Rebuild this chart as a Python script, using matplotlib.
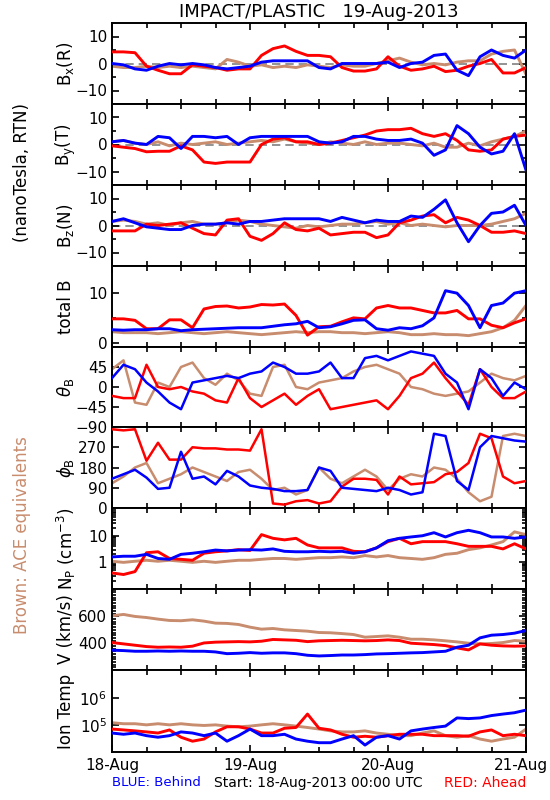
import numpy as np
import matplotlib
matplotlib.use('Agg')
import matplotlib.pyplot as plt
import matplotlib.transforms as mtransforms
from matplotlib.ticker import FixedLocator, NullFormatter, LogLocator

plt.rcParams.update({
    'font.family': 'DejaVu Sans',
    'font.size': 11,
    'axes.linewidth': 1.4,
})

BLUE = '#0000ff'
RED = '#ff0000'
BROWN = '#c88c6e'

# hours since 18-Aug-2013 00:00 UTC, every 2 h
HOURS = np.arange(0, 73, 2)

# ---- B_R ----
bx_red = [4.3, 4.3, 4.0, -1.0, -2.5, -3.8, -3.8, -0.5, -1.0, -1.5, -2.5, -2.0, -2.0,
          3.0, 5.5, 6.5, 4.5, 3.0, 3.0, 2.5, -1.5, -2.8, -2.8, -2.0, 2.5, -1.0,
          -2.5, -2.0, -1.0, -3.0, -2.5, -1.0, 0.0, 1.5, -3.5, -3.5, -1.5]
bx_blue = [0.0, -0.5, -2.0, -2.5, -1.0, 0.0, -0.5, 0.0, -0.5, -1.5, -2.0, -1.5, -1.0,
           0.5, 1.0, 1.0, 1.0, 1.0, -1.5, -2.0, 0.0, 0.0, 0.0, 0.0, 0.5, -1.5,
           0.0, 0.5, 3.0, 3.5, -2.5, -4.5, 2.5, 5.0, 3.0, 2.0, 5.0]
bx_ace = [-1.0, -1.5, -1.5, -1.0, -1.5, -1.0, -1.5, -1.0, -1.5, -2.0, 1.5, 0.5, -1.0,
          -0.5, -1.5, -1.0, -1.5, -0.5, -1.0, -1.5, -0.5, -1.0, -1.0, 0.0, 1.0, 2.0,
          0.5, -0.5, 0.0, -0.5, 0.5, 1.0, 1.0, 3.5, 4.5, 5.0, -4.0]

# ---- B_T ----
by_red = [-0.5, -1.0, -1.5, -2.7, -2.5, -2.5, -0.5, -2.0, -6.5, -7.0, -6.5, -6.5, -6.5,
          0.0, 2.0, 2.5, 1.0, 1.0, 0.0, 0.5, 1.5, 2.5, 3.5, 5.0, 5.5, 5.5,
          6.0, 4.0, 3.0, 4.0, 1.5, -2.0, -2.5, -2.0, 2.0, 3.0, 3.5]
by_blue = [1.0, 1.5, 0.5, 0.0, 3.0, 2.5, -1.5, 3.0, 3.0, 2.5, 3.0, 0.0, 2.5,
           3.0, 3.0, 3.0, 3.0, 3.0, 1.0, 0.5, 1.0, 3.0, 3.0, 2.0, 1.5, 1.5,
           2.0, 0.5, -4.0, -2.0, 7.0, 4.0, -1.0, -3.5, -2.5, 4.0, -9.5]
by_ace = [1.0, 1.5, 0.5, 0.0, 1.0, -0.5, 0.5, 0.0, 0.5, 1.0, 0.0, 0.5, 1.0,
          1.5, 1.0, 2.0, 1.0, 0.5, 0.0, 1.0, 0.5, 0.0, 1.0, 0.0, 0.5, 0.5,
          0.0, -0.5, 0.5, -1.0, -1.0, 0.5, -0.5, 1.0, 2.0, 3.0, 5.0]

# ---- B_N ----
bz_red = [-2.0, -2.0, -2.0, 0.5, 0.0, 0.5, 1.0, -1.0, -3.0, -3.5, 2.0, 2.5, -4.0,
          -5.5, -3.0, 1.0, -1.5, -2.0, -1.0, -3.5, -3.0, -2.5, -2.5, -4.5, -3.5, 1.0,
          2.0, 3.5, 4.0, 1.0, 3.0, 2.0, 0.0, -2.5, -2.5, -2.0, -3.0]
bz_blue = [1.5, 2.5, 1.0, -0.5, -1.0, -1.5, -1.5, 0.0, 0.5, 0.5, 1.0, 0.5, 1.5,
           1.5, 2.0, 2.5, 2.5, 2.5, 2.5, 1.5, 3.0, 2.0, 1.0, 2.0, 1.5, 1.5,
           3.5, 3.0, 6.0, 9.5, 1.0, -6.0, 0.0, 4.5, 5.0, 7.5, 0.0]
bz_ace = [1.5, 2.0, 1.5, 0.5, 1.0, 0.0, 1.0, 1.5, 0.5, 0.5, 1.0, 2.0, 1.5,
          0.5, 0.0, -0.5, -1.0, 0.0, -0.5, 0.0, 0.5, 0.5, 1.0, 1.5, 0.5, 1.0,
          0.0, 0.5, 0.0, -0.5, 0.0, 0.0, 0.0, 0.5, 1.5, 2.5, 4.5]

# ---- |B| ----
bt_red = [4.8, 4.8, 4.5, 2.8, 2.8, 4.6, 4.6, 3.0, 6.8, 7.3, 7.4, 7.0, 7.2,
          7.7, 7.6, 7.8, 5.5, 1.5, 3.2, 3.3, 4.2, 5.0, 4.8, 7.0, 7.5, 7.0,
          7.0, 6.5, 6.0, 6.0, 6.5, 4.8, 4.8, 3.5, 3.0, 4.0, 4.8]
bt_blue = [2.6, 2.5, 2.6, 2.6, 2.8, 2.8, 2.4, 2.6, 2.7, 2.8, 2.9, 3.0, 3.0,
           3.0, 3.3, 3.6, 3.8, 4.3, 3.0, 3.2, 3.8, 4.5, 4.6, 2.8, 2.5, 3.0,
           2.8, 3.4, 5.0, 10.5, 10.0, 7.5, 3.0, 7.5, 8.0, 10.0, 10.5]
bt_ace = [2.2, 2.0, 2.0, 2.0, 1.8, 2.0, 2.2, 2.0, 1.8, 2.0, 2.2, 2.0, 1.8,
          1.6, 1.8, 2.0, 2.2, 2.0, 2.2, 2.2, 2.0, 2.0, 1.8, 2.0, 2.2, 2.0,
          1.6, 1.6, 1.8, 1.6, 1.6, 1.4, 1.8, 2.2, 3.0, 4.5, 7.5]

# ---- theta_B (deg) ----
th_red = [-20, -25, -25, 50, 0, -5, 0, -10, -15, -30, -35, 20, -25,
          -45, -30, -15, -40, -20, -5, -50, -45, -40, -35, -30, -50, -20,
          20, 30, 55, 20, -10, -40, 40, 0, -25, -25, -10]
th_blue = [20, 50, 40, 10, -10, -35, -50, 10, 15, 20, 25, 20, 30,
           35, 55, 45, 30, 30, 35, 55, 20, 20, 65, 70, 60, 70,
           80, 75, 70, 30, 10, -50, 40, 20, -20, 10, -5]
th_ace = [40, 60, -35, -40, 10, 0, 45, 55, 20, 5, 30, 15, -15,
          -20, 45, 50, 0, -5, 10, 15, 20, 35, 45, 50, 40, 30,
          0, -5, -15, -20, -15, -10, 10, 30, 20, 15, 25]

# ---- phi_B (deg) ----
ph_red = [350, 345, 350, 210, 290, 215, 215, 270, 265, 265, 260, 260, 255,
          350, 20, 15, 30, 35, 20, 30, 95, 130, 130, 125, 60, 140,
          105, 110, 115, 150, 160, 200, 330, 310, 140, 110, 120]
ph_blue = [130, 150, 170, 135, 85, 90, 250, 130, 140, 105, 165, 140, 100,
           90, 85, 75, 75, 80, 180, 165, 90, 85, 80, 75, 90, 80,
           60, 70, 330, 320, 120, 80, 270, 320, 310, 300, 295]
ph_ace = [110, 140, 180, 200, 110, 130, 150, 180, 160, 140, 120, 160, 170,
          130, 80, 90, 60, 80, 180, 130, 110, 140, 170, 140, 80, 130,
          150, 140, 180, 170, 130, 70, 30, 50, 320, 330, 320]

# ---- proton density (cm^-3) ----
np_red = [0.4, 0.35, 0.45, 2.3, 2.5, 1.4, 1.3, 1.2, 2.2, 2.5, 2.7, 3.0, 2.8,
          11, 8, 7, 8, 4.5, 3.5, 3.5, 3.5, 2.6, 2.5, 3.5, 6, 8,
          5, 6, 6, 6, 5, 4, 4, 4, 3.2, 5, 3.2]
np_blue = [1.6, 1.7, 1.7, 2.0, 1.4, 1.3, 2.0, 2.2, 2.5, 2.9, 2.7, 2.9, 3.0,
           2.9, 3.2, 2.6, 2.5, 2.5, 2.6, 2.5, 2.6, 2.2, 2.5, 3.5, 6.5, 8,
           9, 10, 13, 9, 13, 16, 13, 9, 9, 8, 9]
np_ace = [1.1, 1.0, 1.1, 1.2, 1.1, 1.2, 1.1, 1.0, 1.1, 1.0, 1.1, 1.2, 1.2,
          1.3, 1.4, 1.4, 1.3, 1.4, 1.5, 1.5, 1.6, 1.5, 1.8, 1.6, 1.8, 1.5,
          1.4, 1.3, 1.5, 2.0, 2.2, 3.0, 3.5, 4.5, 6, 14, 11]

# ---- bulk speed (km/s) ----
v_red = [405, 395, 385, 375, 370, 372, 370, 378, 402, 408, 410, 412, 410,
         415, 428, 425, 422, 412, 418, 420, 422, 420, 418, 420, 425, 420,
         400, 395, 390, 382, 365, 350, 395, 385, 380, 378, 380]
v_blue = [348, 345, 340, 340, 342, 340, 342, 340, 340, 335, 322, 325, 330,
          325, 328, 328, 322, 310, 305, 308, 312, 312, 315, 320, 322, 325,
          328, 330, 335, 340, 370, 385, 440, 460, 465, 475, 495]
v_ace = [605, 615, 600, 592, 580, 570, 568, 575, 565, 550, 548, 540, 520,
         505, 510, 500, 495, 490, 480, 478, 472, 465, 445, 450, 455, 445,
         430, 430, 425, 418, 410, 400, 395, 398, 405, 420, 415]

# ---- ion temperature (K) ----
t_red = [7.0e4, 6.5e4, 6.0e4, 5.5e4, 5.0e4, 6.5e4, 3.5e4, 2.5e4, 3.0e4, 5.5e4, 8.5e4, 8.5e4, 7.0e4,
         5.0e4, 5.0e4, 7.5e4, 8.0e4, 2.5e5, 7.5e4, 6.5e4, 4.5e4, 3.5e4, 3.8e4, 3.5e4, 4.0e4, 4.5e4,
         4.5e4, 4.5e4, 4.0e4, 4.0e4, 4.0e4, 3.8e4, 5.5e4, 6.5e4, 4.0e4, 4.5e4, 4.0e4]
t_blue = [5.0e4, 4.5e4, 5.0e4, 4.0e4, 3.5e4, 4.0e4, 5.5e4, 5.0e4, 4.0e4, 5.0e4, 2.5e4, 4.0e4, 7.0e4,
          4.0e4, 4.0e4, 4.5e4, 3.0e4, 2.5e4, 2.2e4, 2.2e4, 3.0e4, 4.0e4, 1.8e4, 3.5e4, 4.0e4, 3.0e4,
          6.0e4, 7.0e4, 8.0e4, 9.0e4, 1.8e5, 1.7e5, 1.8e5, 2.2e5, 2.5e5, 2.8e5, 3.5e5]
t_ace = [1.2e5, 1.1e5, 1.1e5, 1.0e5, 1.1e5, 1.0e5, 1.1e5, 1.0e5, 9.5e4, 1.0e5, 9.0e4, 8.5e4, 9.0e4,
         1.0e5, 1.1e5, 1.0e5, 9.0e4, 8.0e4, 7.0e4, 6.0e4, 5.5e4, 5.5e4, 6.0e4, 5.0e4, 4.5e4, 4.0e4,
         4.0e4, 5.0e4, 6.0e4, 4.0e4, 3.5e4, 4.0e4, 3.0e4, 2.5e4, 3.0e4, 3.5e4, 7.0e4]

DAY_LABELS = ['18-Aug', '19-Aug', '20-Aug', '21-Aug']

# panel edges in pixels (top of fig = 0)
EDGES = [23, 104, 185, 266, 347, 427, 508, 589, 670, 752]
LEFT, RIGHT = 112, 526
W, H = 550, 800


def make_axes(fig):
    axes = []
    for i in range(9):
        top, bot = EDGES[i], EDGES[i + 1]
        ax = fig.add_axes([LEFT / W, 1 - bot / H, (RIGHT - LEFT) / W, (bot - top) / H])
        axes.append(ax)
    return axes


def style(ax, last=False):
    ax.set_xlim(0, 72)
    ax.xaxis.set_major_locator(FixedLocator([0, 24, 48, 72]))
    ax.xaxis.set_minor_locator(FixedLocator(np.arange(0, 73, 6)))
    ax.tick_params(axis='both', which='both', direction='in', top=True, right=True,
                   width=1.2, colors='black', labelsize=11)
    ax.tick_params(axis='both', which='major', length=5)
    ax.tick_params(axis='both', which='minor', length=3)
    ax.tick_params(axis='x', which='minor', length=3.5)
    if last:
        ax.set_xticklabels(DAY_LABELS, fontsize=11)
        ax.tick_params(axis='x', which='major', pad=4)
        # nudge the last date label so it stays inside the figure
        lab = ax.get_xticklabels()[-1]
        lab.set_transform(lab.get_transform() + mtransforms.ScaledTranslation(
            -4 / 72, 0, ax.figure.dpi_scale_trans))
    else:
        ax.set_xticklabels([])


def draw(ax, ace, red, blue, lw=2.1):
    ax.plot(HOURS, ace, color=BROWN, lw=lw, zorder=2)
    ax.plot(HOURS, red, color=RED, lw=lw, zorder=3)
    ax.plot(HOURS, blue, color=BLUE, lw=lw, zorder=4)


def main():
    fig = plt.figure(figsize=(5.5, 8.0), dpi=100)
    axes = make_axes(fig)

    comps = [(bx_ace, bx_red, bx_blue),
             (by_ace, by_red, by_blue),
             (bz_ace, bz_red, bz_blue)]
    for ax, (ace, red, blue) in zip(axes[:3], comps):
        ax.axhline(0, color='#808080', lw=1.2, ls=(0, (5, 3)), zorder=1)
        draw(ax, ace, red, blue)
        ax.set_ylim(-15, 15)
        ax.yaxis.set_major_locator(FixedLocator([-10, 0, 10]))
        ax.yaxis.set_minor_locator(FixedLocator([-5, 5]))
        ax.set_yticklabels(['\u221210', '0', '10'])

    ax = axes[3]
    draw(ax, bt_ace, bt_red, bt_blue)
    ax.set_ylim(-0.9, 15.5)
    ax.yaxis.set_major_locator(FixedLocator([0, 10]))
    ax.yaxis.set_minor_locator(FixedLocator([5]))

    ax = axes[4]
    draw(ax, th_ace, th_red, th_blue, lw=1.8)
    ax.set_ylim(-90, 90)
    ax.yaxis.set_major_locator(FixedLocator([-90, -45, 0, 45]))
    ax.set_yticklabels(['\u221290', '\u221245', '0', '45'])

    ax = axes[5]
    draw(ax, ph_ace, ph_red, ph_blue, lw=1.8)
    ax.set_ylim(0, 360)
    ax.yaxis.set_major_locator(FixedLocator([0, 90, 180, 270]))
    ax.set_yticklabels(['0', '90', '180', '270'])

    ax = axes[6]
    draw(ax, np_ace, np_red, np_blue)
    ax.set_yscale('log')
    ax.set_ylim(0.1, 110)
    ax.yaxis.set_major_locator(FixedLocator([1, 10]))
    ax.set_yticklabels(['1', '10'])
    ax.yaxis.set_minor_locator(LogLocator(base=10, subs=np.arange(2, 10)))
    ax.yaxis.set_minor_formatter(NullFormatter())

    ax = axes[7]
    draw(ax, v_ace, v_red, v_blue)
    ax.set_ylim(200, 805)
    ax.yaxis.set_major_locator(FixedLocator([400, 600]))
    ax.yaxis.set_minor_locator(FixedLocator(np.arange(200, 801, 20)))
    ax.tick_params(axis='y', which='minor', length=2.5)

    ax = axes[8]
    draw(ax, t_ace, t_red, t_blue)
    ax.set_yscale('log')
    ax.set_ylim(1e4, 1.05e7)
    ax.yaxis.set_major_locator(FixedLocator([1e5, 1e6]))
    ax.set_yticklabels([r'10$^\mathregular{5}$', r'10$^\mathregular{6}$'])
    ax.yaxis.set_minor_locator(FixedLocator([]))

    for i, ax in enumerate(axes):
        style(ax, last=(i == 8))

    ylabels = [r'B$_\mathregular{x}$(R)', r'B$_\mathregular{y}$(T)', r'B$_\mathregular{z}$(N)',
               'total B', r'$\theta_\mathregular{B}$', r'$\phi_\mathregular{B}$',
               r'N$_\mathregular{P}$ (cm$^{\mathregular{-3}}$)', 'V (km/s)', 'Ion Temp']
    for i, lab in enumerate(ylabels):
        yc = 1 - (EDGES[i] + EDGES[i + 1]) / 2 / H
        fig.text(66 / W, yc, lab, rotation=90, ha='center', va='center', fontsize=12)

    fig.text(22 / W, 1 - 172 / H, '(nanoTesla, RTN)', rotation=90,
             ha='center', va='center', fontsize=12)
    fig.text(22 / W, 1 - 535 / H, 'Brown: ACE equivalents', rotation=90,
             ha='center', va='center', fontsize=12, color=BROWN)

    xc = (LEFT + RIGHT) / 2 / W
    fig.text(xc, 1 - 12 / H, 'IMPACT/PLASTIC   19-Aug-2013', ha='center', va='center',
             fontsize=13)
    fig.text(LEFT / W, 1 - 783 / H, 'BLUE: Behind', ha='left', va='center',
             fontsize=9.5, color=BLUE)
    fig.text(318 / W, 1 - 783 / H, 'Start: 18-Aug-2013 00:00 UTC', ha='center', va='center',
             fontsize=10)
    fig.text(RIGHT / W, 1 - 783 / H, 'RED: Ahead', ha='right', va='center',
             fontsize=10, color=RED)

    fig.savefig('out.png', dpi=100)
    plt.close(fig)


if __name__ == '__main__':
    main()
